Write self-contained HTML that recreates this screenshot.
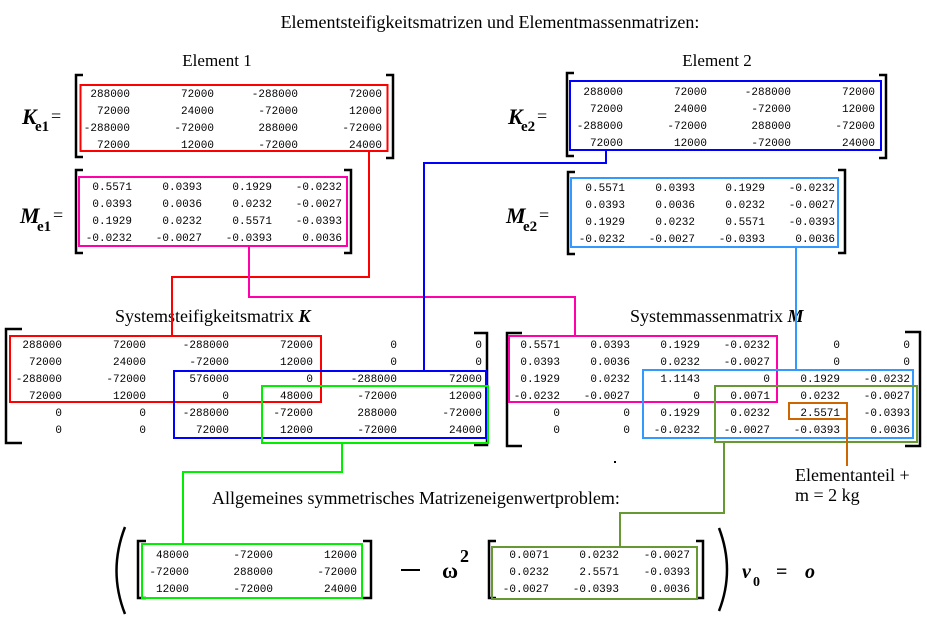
<!DOCTYPE html>
<html><head><meta charset="utf-8"><style>
html,body{margin:0;padding:0;background:#fff}
svg{display:block}
.n{font-family:"Liberation Mono",monospace;font-size:11px;text-anchor:end;fill:#000}
.s{font-family:"Liberation Serif",serif;font-size:18px;fill:#000}
.b{font-family:"Liberation Serif",serif;font-weight:bold;font-style:italic;fill:#000}
.u{font-family:"Liberation Serif",serif;font-weight:bold;font-style:normal;fill:#000}
.br{fill:none;stroke:#000;stroke-width:2.5}
.bx{fill:none;stroke-width:2}
</style></head><body>
<svg width="927" height="623" viewBox="0 0 927 623" xmlns="http://www.w3.org/2000/svg">
<text class="s" x="490" y="28" text-anchor="middle">Elementsteifigkeitsmatrizen und Elementmassenmatrizen:</text>
<text class="s" x="217" y="66" text-anchor="middle" style="font-size:17px">Element 1</text>
<text class="s" x="717" y="66" text-anchor="middle" style="font-size:17px">Element 2</text>

<!-- Ke1 -->
<text class="b" x="22" y="124" font-size="22">K</text><text class="u" x="35" y="131" font-size="15">e1</text><text class="s" x="51" y="122" font-size="20">=</text>
<path class="br" d="M83 75H76V157H83M386 75H393V158H386"/>
<rect class="bx" stroke="#f00" x="80.5" y="85" width="307" height="66"/>
<g class="n">
<text x="130" y="97">288000</text><text x="214" y="97">72000</text><text x="298" y="97">-288000</text><text x="382" y="97">72000</text>
<text x="130" y="114">72000</text><text x="214" y="114">24000</text><text x="298" y="114">-72000</text><text x="382" y="114">12000</text>
<text x="130" y="131">-288000</text><text x="214" y="131">-72000</text><text x="298" y="131">288000</text><text x="382" y="131">-72000</text>
<text x="130" y="148">72000</text><text x="214" y="148">12000</text><text x="298" y="148">-72000</text><text x="382" y="148">24000</text>
</g>

<!-- Me1 -->
<text class="b" x="20" y="223" font-size="22">M</text><text class="u" x="37" y="231" font-size="15">e1</text><text class="s" x="53" y="221" font-size="20">=</text>
<path class="br" d="M83 170H76V253H83M344 170H351V253H344"/>
<rect class="bx" stroke="#f0a" x="79" y="177" width="268" height="69"/>
<g class="n">
<text x="132" y="190">0.5571</text><text x="202" y="190">0.0393</text><text x="272" y="190">0.1929</text><text x="342" y="190">-0.0232</text>
<text x="132" y="207">0.0393</text><text x="202" y="207">0.0036</text><text x="272" y="207">0.0232</text><text x="342" y="207">-0.0027</text>
<text x="132" y="224">0.1929</text><text x="202" y="224">0.0232</text><text x="272" y="224">0.5571</text><text x="342" y="224">-0.0393</text>
<text x="132" y="241">-0.0232</text><text x="202" y="241">-0.0027</text><text x="272" y="241">-0.0393</text><text x="342" y="241">0.0036</text>
</g>

<!-- Ke2 -->
<text class="b" x="508" y="124" font-size="22">K</text><text class="u" x="521" y="131" font-size="15">e2</text><text class="s" x="537" y="122" font-size="20">=</text>
<path class="br" d="M574 73H567V156H574M879 75H886V158H879"/>
<rect class="bx" stroke="#00f" x="570" y="81" width="311" height="69"/>
<g class="n">
<text x="623" y="95">288000</text><text x="707" y="95">72000</text><text x="791" y="95">-288000</text><text x="875" y="95">72000</text>
<text x="623" y="112">72000</text><text x="707" y="112">24000</text><text x="791" y="112">-72000</text><text x="875" y="112">12000</text>
<text x="623" y="129">-288000</text><text x="707" y="129">-72000</text><text x="791" y="129">288000</text><text x="875" y="129">-72000</text>
<text x="623" y="146">72000</text><text x="707" y="146">12000</text><text x="791" y="146">-72000</text><text x="875" y="146">24000</text>
</g>

<!-- Me2 -->
<text class="b" x="506" y="223" font-size="22">M</text><text class="u" x="523" y="231" font-size="15">e2</text><text class="s" x="539" y="221" font-size="20">=</text>
<path class="br" d="M575 172H568V254H575M838 170H845V253H838"/>
<rect class="bx" stroke="#39f" x="571" y="178" width="267" height="69"/>
<g class="n">
<text x="625" y="191">0.5571</text><text x="695" y="191">0.0393</text><text x="765" y="191">0.1929</text><text x="835" y="191">-0.0232</text>
<text x="625" y="208">0.0393</text><text x="695" y="208">0.0036</text><text x="765" y="208">0.0232</text><text x="835" y="208">-0.0027</text>
<text x="625" y="225">0.1929</text><text x="695" y="225">0.0232</text><text x="765" y="225">0.5571</text><text x="835" y="225">-0.0393</text>
<text x="625" y="242">-0.0232</text><text x="695" y="242">-0.0027</text><text x="765" y="242">-0.0393</text><text x="835" y="242">0.0036</text>
</g>

<!-- System K -->
<text class="s" x="115" y="322">Systemsteifigkeitsmatrix <tspan class="b">K</tspan></text>
<path class="br" d="M22 329H6V443H22M474 333H487V445H474"/>
<g class="n">
<text x="62" y="348">288000</text><text x="146" y="348">72000</text><text x="229" y="348">-288000</text><text x="313" y="348">72000</text><text x="397" y="348">0</text><text x="482" y="348">0</text>
<text x="62" y="365">72000</text><text x="146" y="365">24000</text><text x="229" y="365">-72000</text><text x="313" y="365">12000</text><text x="397" y="365">0</text><text x="482" y="365">0</text>
<text x="62" y="382">-288000</text><text x="146" y="382">-72000</text><text x="229" y="382">576000</text><text x="313" y="382">0</text><text x="397" y="382">-288000</text><text x="482" y="382">72000</text>
<text x="62" y="399">72000</text><text x="146" y="399">12000</text><text x="229" y="399">0</text><text x="313" y="399">48000</text><text x="397" y="399">-72000</text><text x="482" y="399">12000</text>
<text x="62" y="416">0</text><text x="146" y="416">0</text><text x="229" y="416">-288000</text><text x="313" y="416">-72000</text><text x="397" y="416">288000</text><text x="482" y="416">-72000</text>
<text x="62" y="433">0</text><text x="146" y="433">0</text><text x="229" y="433">72000</text><text x="313" y="433">12000</text><text x="397" y="433">-72000</text><text x="482" y="433">24000</text>
</g>
<rect class="bx" stroke="#f00" x="10" y="336" width="311" height="66"/>
<rect class="bx" stroke="#00f" x="174" y="371" width="312" height="67"/>
<rect class="bx" stroke="#0e0" x="262" y="386" width="226" height="57"/>

<!-- System M -->
<text class="s" x="630" y="322">Systemmassenmatrix  <tspan class="b">M</tspan></text>
<path class="br" d="M522 333H507V446H522M905 332H920V446H905"/>
<g class="n">
<text x="560" y="348">0.5571</text><text x="630" y="348">0.0393</text><text x="700" y="348">0.1929</text><text x="770" y="348">-0.0232</text><text x="840" y="348">0</text><text x="910" y="348">0</text>
<text x="560" y="365">0.0393</text><text x="630" y="365">0.0036</text><text x="700" y="365">0.0232</text><text x="770" y="365">-0.0027</text><text x="840" y="365">0</text><text x="910" y="365">0</text>
<text x="560" y="382">0.1929</text><text x="630" y="382">0.0232</text><text x="700" y="382">1.1143</text><text x="770" y="382">0</text><text x="840" y="382">0.1929</text><text x="910" y="382">-0.0232</text>
<text x="560" y="399">-0.0232</text><text x="630" y="399">-0.0027</text><text x="700" y="399">0</text><text x="770" y="399">0.0071</text><text x="840" y="399">0.0232</text><text x="910" y="399">-0.0027</text>
<text x="560" y="416">0</text><text x="630" y="416">0</text><text x="700" y="416">0.1929</text><text x="770" y="416">0.0232</text><text x="840" y="416">2.5571</text><text x="910" y="416">-0.0393</text>
<text x="560" y="433">0</text><text x="630" y="433">0</text><text x="700" y="433">-0.0232</text><text x="770" y="433">-0.0027</text><text x="840" y="433">-0.0393</text><text x="910" y="433">0.0036</text>
</g>
<rect class="bx" stroke="#f0a" x="509" y="336" width="268" height="66"/>
<rect class="bx" stroke="#39f" x="643" y="370" width="270" height="68"/>
<rect class="bx" stroke="#693" x="715" y="386" width="202" height="56"/>
<rect class="bx" stroke="#c60" x="789" y="403" width="58" height="16"/>
<rect x="614" y="461" width="2" height="2" fill="#000"/>

<!-- connectors -->
<g fill="none" stroke-width="2">
<path stroke="#f00" d="M369 151V277H172V336"/>
<path stroke="#f0a" d="M249 246V297H575V336"/>
<path stroke="#00f" d="M606 150V163H424V371"/>
<path stroke="#39f" d="M796 247V370"/>
<path stroke="#0e0" d="M342 443V472H183V544"/>
<path stroke="#693" d="M724 442V513H620V547"/>
<path stroke="#c60" d="M847 419V466"/>
</g>
<text class="s" x="795" y="481" font-size="17">Elementanteil +</text>
<text class="s" x="795" y="501" font-size="17">m = 2 kg</text>

<text class="s" x="212" y="504">Allgemeines symmetrisches Matrizeneigenwertproblem:</text>

<!-- bottom -->
<path d="M125 527Q108 571 125 614" fill="none" stroke="#000" stroke-width="2.5"/>
<path class="br" d="M146 541H138V598H146M363 541H371V598H363"/>
<rect class="bx" stroke="#0e0" x="142" y="544" width="220" height="54"/>
<g class="n">
<text x="189" y="558">48000</text><text x="273" y="558">-72000</text><text x="357" y="558">12000</text>
<text x="189" y="575">-72000</text><text x="273" y="575">288000</text><text x="357" y="575">-72000</text>
<text x="189" y="592">12000</text><text x="273" y="592">-72000</text><text x="357" y="592">24000</text>
</g>
<rect x="401" y="569" width="19" height="2" fill="#000"/>
<text class="u" x="442" y="578" font-size="22">ω</text><text class="u" x="460" y="562" font-size="18">2</text>
<path class="br" d="M496 541H489V598H496M696 541H703V598H696"/>
<rect class="bx" stroke="#693" x="492" y="547" width="205" height="52"/>
<g class="n">
<text x="549" y="558">0.0071</text><text x="619" y="558">0.0232</text><text x="690" y="558">-0.0027</text>
<text x="549" y="575">0.0232</text><text x="619" y="575">2.5571</text><text x="690" y="575">-0.0393</text>
<text x="549" y="592">-0.0027</text><text x="619" y="592">-0.0393</text><text x="690" y="592">0.0036</text>
</g>
<path d="M719 528Q735 570 719 611" fill="none" stroke="#000" stroke-width="2.5"/>
<text class="b" x="742" y="578" font-size="20">v</text><text class="u" x="753" y="586" font-size="14">0</text>
<text class="u" x="776" y="578" font-size="20">=</text>
<text class="b" x="805" y="578" font-size="20">o</text>
</svg>
</body></html>
